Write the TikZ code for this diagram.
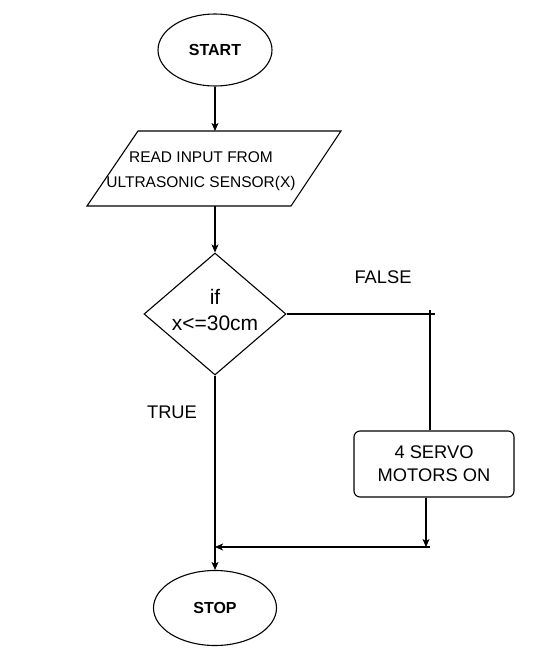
\documentclass[tikz,border=0pt]{standalone}
\usepackage{fontspec}
\setmainfont{Liberation Sans}
\usetikzlibrary{shapes.geometric,arrows.meta,calc}
\begin{document}
\begin{tikzpicture}[x=1pt,y=-1pt,
  every node/.style={inner sep=0pt},
  line/.style={draw=black,line width=1.1pt},
  arr/.style={line,-{Stealth[length=8pt,width=7pt,inset=2pt]}},
  term/.style={ellipse,line,minimum width=#1},
  lbl/.style={font=\fontsize{18.3}{23}\selectfont,align=center},
]
\useasboundingbox[fill=white] (0,0) rectangle (541,660);
% START
\node[term=114pt,minimum height=72pt,font=\fontsize{16}{18}\selectfont\bfseries] (start) at (215,50) {START};
% parallelogram
\draw[line] (138,131) coordinate (pA) -- (341,131) -- (291,206) -- (87,206) -- cycle;
\coordinate (readtop) at (215,131);
\coordinate (readbot) at (215,206);
\node[font=\fontsize{15.5}{25}\selectfont,align=center] (read) at (201,171) {READ INPUT FROM\\ULTRASONIC SENSOR(X)};
% decision
\node[diamond,line,minimum width=142pt,minimum height=122pt] (dec) at (215,314) {};
\node[font=\fontsize{21}{26}\selectfont,align=center] (dectext) at (215,310) {if\\x<=30cm};
% servo
\node[rectangle,rounded corners=6pt,line,minimum width=160pt,minimum height=66pt,lbl] (servo) at (434,464) {4 SERVO\\MOTORS ON};
% STOP
\node[term=123pt,minimum height=75pt,font=\fontsize{16}{18}\selectfont\bfseries] (stop) at (215,608) {STOP};
% labels
\node[lbl] (false) at (383,277) {FALSE};
\node[lbl] (true) at (172,412) {TRUE};
% coordinates
\coordinate (fj) at (430,314);
\coordinate (mj) at (430,547);
\coordinate (mdown) at (426,547);
\coordinate (trunk) at (215,547);
% connectors
\draw[arr] (start.south) -- (readtop);
\draw[arr] (readbot) -- (dec.north);
\draw[line] (dec.east) -- ([xshift=5pt]fj);
\draw[line] ([yshift=4pt]fj) -- (fj |- servo.north);
\draw[arr] (servo.south -| mdown) -- (mdown);
\draw[arr] (mj) -- (trunk);
\draw[arr] (dec.south) -- (stop.north);
\end{tikzpicture}
\end{document}
